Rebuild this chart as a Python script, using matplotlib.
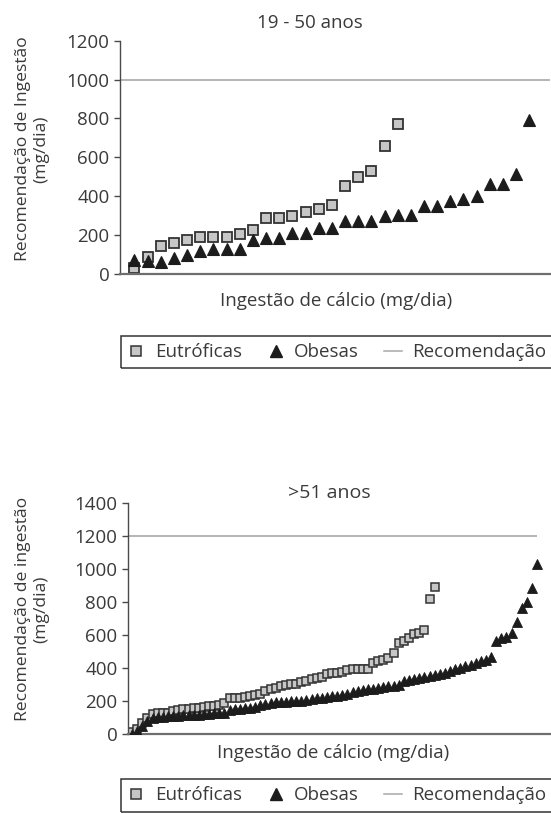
"""
plot.py
=======

Calcium intake of eutrophic and obese women, sorted from lowest to highest,
against the recommended daily intake, for two age groups (19-50 and >51 years).
"""

import matplotlib
matplotlib.use("Agg")
import matplotlib.pyplot as plt
from matplotlib.lines import Line2D
from matplotlib.patches import Rectangle

plt.rcParams["font.family"] = ["Open Sans", "DejaVu Sans"]

# ----------------------------------------------------------------------
# 1. Data (mg/dia), each series sorted ascending
# ----------------------------------------------------------------------
titulo_1 = "19 - 50 anos"
eutroficas_1 = [29, 88, 143, 160, 173, 190, 190, 190, 206, 226, 287, 287,
                296, 318, 332, 357, 451, 497, 529, 656, 769]
obesas_1 = [70, 66, 61, 80, 100, 117, 129, 129, 129, 173, 184, 184, 212,
            212, 238, 238, 272, 272, 272, 298, 306, 306, 350, 350, 374,
            384, 403, 463, 463, 514, 792]
recomendacao_1 = 1000
yticks_1 = [0, 200, 400, 600, 800, 1000, 1200]

titulo_2 = ">51 anos"
eutroficas_2 = [10, 30, 65, 95, 120, 125, 125, 130, 140, 145, 150, 150,
                155, 160, 165, 170, 172, 178, 190, 215, 220, 220, 222, 228,
                235, 245, 258, 272, 280, 288, 295, 300, 305, 312, 320, 330,
                340, 345, 362, 368, 372, 376, 390, 393, 393, 393, 395, 430,
                440, 448, 460, 490, 550, 565, 580, 608, 610, 630, 820, 890]
obesas_2 = [0, 20, 50, 80, 95, 100, 105, 110, 110, 110, 112, 115, 115, 118,
            120, 122, 125, 125, 130, 145, 150, 152, 155, 160, 165, 175, 182,
            188, 195, 195, 195, 198, 200, 200, 205, 210, 215, 218, 222, 228,
            232, 236, 242, 252, 258, 264, 270, 275, 280, 284, 288, 290, 295,
            320, 325, 332, 338, 344, 350, 356, 365, 372, 380, 392, 402, 412,
            420, 432, 440, 448, 465, 560, 580, 588, 610, 675, 765, 800, 885,
            1030]
recomendacao_2 = 1200
yticks_2 = [0, 200, 400, 600, 800, 1000, 1200, 1400]

ylabel_1 = "Recomendação de Ingestão\n(mg/dia)"
ylabel_2 = "Recomendação de ingestão\n(mg/dia)"
xlabel = "Ingestão de cálcio (mg/dia)"
legend_labels = ["Eutróficas", "Obesas", "Recomendação"]

# ----------------------------------------------------------------------
# 2. Styles
# ----------------------------------------------------------------------
W, H = 551, 814
TXT = "#3a3a3a"
SQ_FACE, SQ_EDGE = "#c6c6c6", "#333333"
TRI = "#1c1c1c"
REC = "#a8a8a8"
FS = 13.5          # ticks, titles, x labels, legend
FS_Y = 12.6        # rotated y labels

fig = plt.figure(figsize=(W / 100, H / 100), dpi=100)


def px_axes(left, right, top, bottom):
    return fig.add_axes([left / W, 1 - bottom / H,
                         (right - left) / W, (bottom - top) / H])


def style_axes(ax, yticks):
    ax.set_ylim(yticks[0], yticks[-1])
    ax.set_yticks(yticks)
    ax.set_xticks([])
    for s in ("top", "right"):
        ax.spines[s].set_visible(False)
    ax.spines["left"].set_color("#4a4a4a")
    ax.spines["left"].set_linewidth(1.0)
    ax.spines["bottom"].set_color("#6e6e6e")
    ax.spines["bottom"].set_linewidth(1.6)
    ax.tick_params(axis="y", length=4.5, width=1.0, color="#4a4a4a",
                   pad=3.0, labelsize=FS, labelcolor=TXT)
    ax.patch.set_alpha(0)


def legend_box(top_px, bottom_px):
    # frame runs past the right edge of the figure, as in the original
    fig.patches.append(Rectangle((121 / W, 1 - bottom_px / H),
                                 (620 - 121) / W, (bottom_px - top_px) / H,
                                 transform=fig.transFigure, fill=False,
                                 ec="#333333", lw=1.1))
    handles = [
        Line2D([], [], ls="none", marker="s", ms=6.5, mfc=SQ_FACE,
               mec=SQ_EDGE, mew=1.1),
        Line2D([], [], ls="none", marker="^", ms=9, mfc=TRI, mec=TRI),
        Line2D([], [], color=REC, lw=1.1),
    ]
    leg = fig.legend(handles, legend_labels, ncol=3, loc="center left",
                     bbox_to_anchor=(121 / W, 1 - (top_px + bottom_px) / 2 / H),
                     frameon=False, fontsize=FS,
                     handlelength=1.0, handletextpad=0.5, columnspacing=1.3,
                     borderpad=0.3, borderaxespad=0)
    for t in leg.get_texts():
        t.set_color(TXT)


# ----------------------------------------------------------------------
# 3. 19 - 50 anos
# ----------------------------------------------------------------------
ax1 = px_axes(120, 550, 40.7, 274)
x_e1 = range(1, len(eutroficas_1) + 1)
x_o1 = range(1, len(obesas_1) + 1)
ax1.axhline(recomendacao_1, color=REC, lw=1.2, zorder=1)
ax1.plot(x_e1, eutroficas_1, ls="none", marker="s", ms=6.6, mfc=SQ_FACE,
         mec=SQ_EDGE, mew=1.3, zorder=2)
ax1.plot(x_o1, obesas_1, ls="none", marker="^", ms=9.2, mfc=TRI, mec=TRI,
         mew=0.8, zorder=3)
ax1.set_xlim(-0.09, len(obesas_1) + 1.57)
style_axes(ax1, yticks_1)

fig.text(310 / W, 1 - 28 / H, titulo_1, ha="center", va="baseline",
         fontsize=FS, color=TXT)
fig.text(336 / W, 1 - 306 / H, xlabel, ha="center", va="baseline",
         fontsize=FS, color=TXT)
fig.text(32 / W, 1 - 149 / H, ylabel_1, rotation=90, ha="center",
         va="center", multialignment="center", fontsize=FS_Y, color=TXT)
legend_box(336.5, 368)

# ----------------------------------------------------------------------
# 4. >51 anos
# ----------------------------------------------------------------------
ax2 = px_axes(128, 550, 502.7, 734)
x_e2 = range(1, len(eutroficas_2) + 1)
x_o2 = range(1, len(obesas_2) + 1)
x0 = 0.2
ax2.hlines(recomendacao_2, x0, len(obesas_2), color=REC, lw=1.2, zorder=1)
ax2.plot(x_e2, eutroficas_2, ls="none", marker="s", ms=5.6, mfc=SQ_FACE,
         mec=SQ_EDGE, mew=1.1, zorder=2)
ax2.plot(x_o2, obesas_2, ls="none", marker="^", ms=7.0, mfc=TRI, mec=TRI,
         mew=0.6, zorder=3)
ax2.set_xlim(x0, len(obesas_2) + 2.5)
style_axes(ax2, yticks_2)

fig.text(329 / W, 1 - 498 / H, titulo_2, ha="center", va="baseline",
         fontsize=14, color=TXT)
fig.text(333 / W, 1 - 758 / H, xlabel, ha="center", va="baseline",
         fontsize=FS, color=TXT)
fig.text(32 / W, 1 - 609 / H, ylabel_2, rotation=90, ha="center",
         va="center", multialignment="center", fontsize=FS_Y, color=TXT)
legend_box(779, 812)

fig.savefig("out.png", dpi=100)
print("Saved figure to out.png")
